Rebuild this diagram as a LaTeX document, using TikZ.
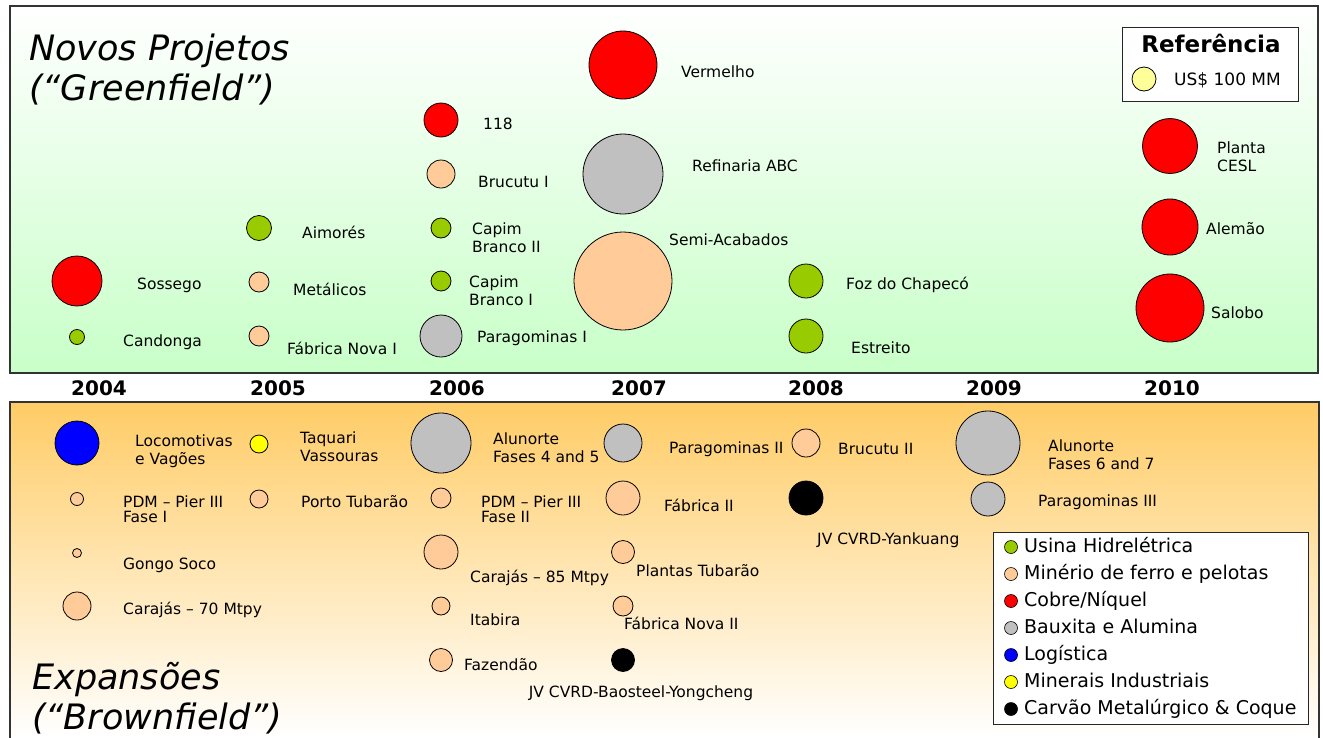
\documentclass[tikz,border=0pt]{standalone}
\usepackage{fontspec}
\setmainfont{DejaVu Sans}
\usepackage{tikz}

\definecolor{hidro}{RGB}{153,204,0}
\definecolor{ferro}{RGB}{255,204,153}
\definecolor{cobre}{RGB}{255,0,0}
\definecolor{bauxita}{RGB}{192,192,192}
\definecolor{logist}{RGB}{0,0,255}
\definecolor{minind}{RGB}{255,255,0}
\definecolor{refcol}{RGB}{255,255,153}
\definecolor{greenbot}{RGB}{200,255,200}
\definecolor{orangetop}{RGB}{255,204,102}

\begin{document}
\begin{tikzpicture}[x=1pt,y=-1pt]
\tikzstyle{bub} = [circle, draw = black, line width = 0.8pt, inner sep = 0 pt]
\tikzstyle{lbl} = [anchor = west, inner sep = 0 pt, align = left, font = \fontsize{15.5}{18}\selectfont]
\tikzstyle{yr} = [inner sep = 0 pt, font = \fontsize{20}{24}\selectfont\bfseries]
\tikzstyle{ttl} = [anchor = west, inner sep = 0 pt, align = left, font = \fontsize{35}{40}\selectfont\itshape]
\tikzstyle{legdot} = [circle, draw = black, line width = 0.6pt, inner sep = 0 pt, minimum size = 13pt]
\tikzstyle{legtxt} = [anchor = west, inner sep = 0 pt, text height = 14pt, text depth = 4pt, font = \fontsize{19}{23}\selectfont]
\useasboundingbox (0,0) rectangle (1323,737);

% panels
\shade [top color = white, bottom color = greenbot] (10,6) rectangle (1318,373);
\draw [line width = 1.2pt, black!80] (10,6) rectangle (1318,373);
\shade [top color = orangetop, bottom color = white] (10,402) rectangle (1319,737);
\draw [line width = 1.2pt, black!80] (10,740) -- (10,402) -- (1319,402) -- (1319,740);

\node [ttl] (novos) at (29,70) {Novos Projetos\\(“Greenfield”)};
\node [ttl] (expans) at (32,698) {Expansões\\(“Brownfield”)};

% greenfield
\node [bub, fill = cobre, minimum size = 50pt] (sossego) at (77,281) {};
\node [lbl] (sossegot) at (137,285) {Sossego};
\node [bub, fill = hidro, minimum size = 15pt] (candonga) at (77,337) {};
\node [lbl] (candongat) at (123,342) {Candonga};
\node [bub, fill = hidro, minimum size = 25pt] (aimores) at (259,228) {};
\node [lbl] (aimorest) at (302,232) {Aimorés};
\node [bub, fill = ferro, minimum size = 20pt] (metalicos) at (259,282) {};
\node [lbl] (metalicost) at (293,289) {Metálicos};
\node [bub, fill = ferro, minimum size = 20pt] (fabnovaI) at (259,336) {};
\node [lbl] (fabnovaIt) at (287,348) {Fábrica Nova I};
\node [bub, fill = cobre, minimum size = 34pt] (cento18) at (441,120) {};
\node [lbl] (cento18t) at (483,124) {118};
\node [bub, fill = ferro, minimum size = 28pt] (brucutuI) at (441,174) {};
\node [lbl] (brucutuIt) at (478,182) {Brucutu I};
\node [bub, fill = hidro, minimum size = 20pt] (capimII) at (441,228) {};
\node [lbl] (capimIIt) at (472,238) {Capim\\Branco II};
\node [bub, fill = hidro, minimum size = 20pt] (capimI) at (441,281) {};
\node [lbl] (capimIt) at (469,291) {Capim\\Branco I};
\node [bub, fill = bauxita, minimum size = 42pt] (paragI) at (441,336) {};
\node [lbl] (paragIt) at (477,338) {Paragominas I};
\node [bub, fill = cobre, minimum size = 68pt] (vermelho) at (623,65) {};
\node [lbl] (vermelhot) at (681,72) {Vermelho};
\node [bub, fill = bauxita, minimum size = 80pt] (refinaria) at (623,174) {};
\node [lbl] (refinariat) at (692,166) {Refinaria ABC};
\node [bub, fill = ferro, minimum size = 98pt] (semiacab) at (623,281) {};
\node [lbl] (semiacabt) at (669,240) {Semi-Acabados};
\node [bub, fill = hidro, minimum size = 34pt] (foz) at (806,281) {};
\node [lbl] (fozt) at (846,285) {Foz do Chapecó};
\node [bub, fill = hidro, minimum size = 34pt] (estreito) at (806,336) {};
\node [lbl] (estreitot) at (851,348) {Estreito};
\node [bub, fill = cobre, minimum size = 55pt] (cesl) at (1170,146) {};
\node [lbl] (ceslt) at (1217,157) {Planta\\CESL};
\node [bub, fill = cobre, minimum size = 56pt] (alemao) at (1170,227) {};
\node [lbl] (alemaot) at (1206,229) {Alemão};
\node [bub, fill = cobre, minimum size = 68pt] (salobo) at (1170,308) {};
\node [lbl] (salobot) at (1211,313) {Salobo};

% referencia
\node [draw = black!85, line width = 1pt, fill = white, minimum width = 176pt, minimum height = 74pt] (refbox) at (1210,64) {};
\node [inner sep = 0 pt, font = \fontsize{23}{27}\selectfont\bfseries] (reft) at (1211,43) {Referência};
\node [bub, fill = refcol, minimum size = 24pt] (refdot) at (1144,79) {};
\node [lbl, font = \fontsize{17}{20}\selectfont] (refdott) at (1174,80) {US\$ 100 MM};

% anos
\node [yr] (y2004) at (99,388) {2004};
\node [yr] (y2005) at (278,388) {2005};
\node [yr] (y2006) at (457,388) {2006};
\node [yr] (y2007) at (639,388) {2007};
\node [yr] (y2008) at (816,388) {2008};
\node [yr] (y2009) at (994,388) {2009};
\node [yr] (y2010) at (1172,388) {2010};

% brownfield
\node [bub, fill = logist, minimum size = 44pt] (locomot) at (77,443) {};
\node [lbl] (locomott) at (135,451) {Locomotivas\\e Vagões};
\node [bub, fill = minind, minimum size = 18pt] (taquari) at (259,444) {};
\node [lbl] (taquarit) at (300,447) {Taquari\\Vassouras};
\node [bub, fill = ferro, minimum size = 13pt] (pdmI) at (77,499) {};
\node [lbl, font = \fontsize{15.5}{15}\selectfont] (pdmIt) at (123,509) {PDM – Pier III\\Fase I};
\node [bub, fill = ferro, minimum size = 18pt] (porto) at (259,499) {};
\node [lbl] (portot) at (301,502) {Porto Tubarão};
\node [bub, fill = ferro, minimum size = 9pt] (gongo) at (77,553) {};
\node [lbl] (gongot) at (123,565) {Gongo Soco};
\node [bub, fill = ferro, minimum size = 28pt] (caraj70) at (77,606) {};
\node [lbl] (caraj70t) at (123,610) {Carajás – 70 Mtpy};
\node [bub, fill = bauxita, minimum size = 60pt] (alunIV) at (441,443) {};
\node [lbl] (alunIVt) at (493,448) {Alunorte\\Fases 4 and 5};
\node [bub, fill = ferro, minimum size = 20pt] (pdmII) at (441,498) {};
\node [lbl, font = \fontsize{15.5}{15}\selectfont] (pdmIIt) at (481,509) {PDM – Pier III\\Fase II};
\node [bub, fill = ferro, minimum size = 34pt] (caraj85) at (441,552) {};
\node [lbl] (caraj85t) at (470,578) {Carajás – 85 Mtpy};
\node [bub, fill = ferro, minimum size = 18pt] (itabira) at (441,606) {};
\node [lbl] (itabirat) at (470,620) {Itabira};
\node [bub, fill = ferro, minimum size = 23pt] (fazendao) at (441,660) {};
\node [lbl] (fazendaot) at (464,665) {Fazendão};
\node [bub, fill = bauxita, minimum size = 38pt] (paragII) at (623,443) {};
\node [lbl] (paragIIt) at (669,449) {Paragominas II};
\node [bub, fill = ferro, minimum size = 34pt] (fabricaII) at (623,498) {};
\node [lbl] (fabricaIIt) at (664,505) {Fábrica II};
\node [bub, fill = ferro, minimum size = 23pt] (plantas) at (623,552) {};
\node [lbl] (plantast) at (636,571) {Plantas Tubarão};
\node [bub, fill = ferro, minimum size = 20pt] (fabnovaII) at (623,606) {};
\node [lbl] (fabnovaIIt) at (624,623) {Fábrica Nova II};
\node [bub, fill = black, minimum size = 23pt] (baosteel) at (623,660) {};
\node [lbl, anchor = center] (baosteelt) at (641,693) {JV CVRD-Baosteel-Yongcheng};
\node [bub, fill = ferro, minimum size = 28pt] (brucutuII) at (806,443) {};
\node [lbl] (brucutuIIt) at (838,449) {Brucutu II};
\node [bub, fill = black, minimum size = 34pt] (yankuang) at (806,498) {};
\node [lbl] (yankuangt) at (817,540) {JV CVRD-Yankuang};
\node [bub, fill = bauxita, minimum size = 64pt] (alunVI) at (988,443) {};
\node [lbl] (alunVIt) at (1048,455) {Alunorte\\Fases 6 and 7};
\node [bub, fill = bauxita, minimum size = 34pt] (paragIII) at (988,499) {};
\node [lbl] (paragIIIt) at (1038,502) {Paragominas III};

% legenda
\node [draw = black!85, line width = 1pt, fill = white, minimum width = 315pt, minimum height = 192pt] (legbox) at (1150.5,628) {};
\node [legdot, fill = hidro] (leghidro) at (1011,547) {};
\node [legtxt] (leghidrot) at (1024,547) {Usina Hidrelétrica};
\node [legdot, fill = ferro] (legferro) at (1011,574) {};
\node [legtxt] (legferrot) at (1024,574) {Minério de ferro e pelotas};
\node [legdot, fill = cobre] (legcobre) at (1011,601) {};
\node [legtxt] (legcobret) at (1024,601) {Cobre/Níquel};
\node [legdot, fill = bauxita] (legbaux) at (1011,628) {};
\node [legtxt] (legbauxt) at (1024,628) {Bauxita e Alumina};
\node [legdot, fill = logist] (leglog) at (1011,655) {};
\node [legtxt] (leglogt) at (1024,655) {Logística};
\node [legdot, fill = minind] (legmin) at (1011,682) {};
\node [legtxt] (legmint) at (1024,682) {Minerais Industriais};
\node [legdot, fill = black] (legcarv) at (1011,709) {};
\node [legtxt] (legcarvt) at (1024,709) {Carvão Metalúrgico \& Coque};
\end{tikzpicture}
\end{document}
